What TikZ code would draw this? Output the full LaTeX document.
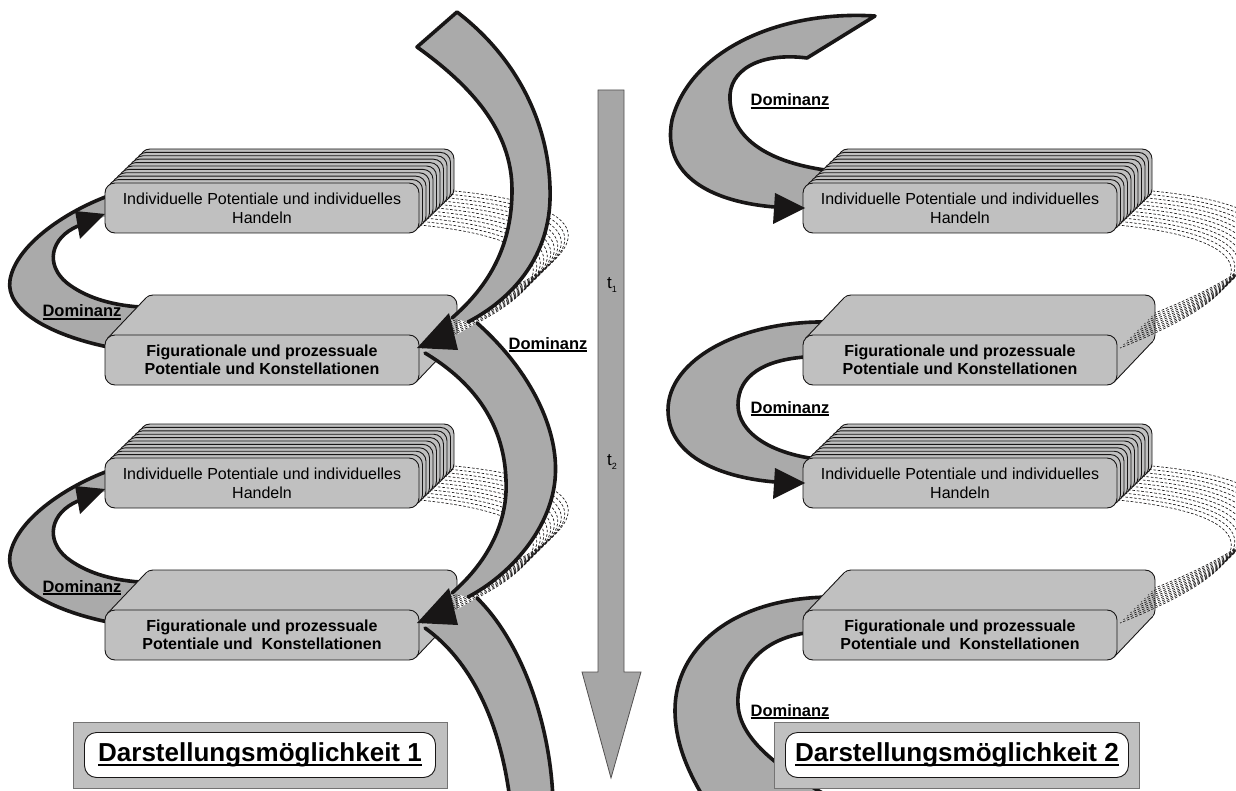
\documentclass[tikz,border=0pt]{standalone}
\usepackage{fontspec}
\setmainfont{Liberation Sans}
\definecolor{boxgray}{RGB}{192,192,192}
\definecolor{bandgray}{RGB}{170,170,170}
\definecolor{timegray}{RGB}{166,166,166}
\definecolor{ink}{RGB}{24,22,22}

% text with a rule underneath: thickness, drop, text
\newcommand\ulword[3]{\setbox0=\hbox{#3}\leavevmode\rlap{\raisebox{-#2}{\rule{\wd0}{#1}}}\box0}

\tikzset{
  faceline/.style={fill=boxgray, draw=ink, line width=0.9pt, rounded corners=10pt},
  bandedge/.style={draw=ink, line width=3.6pt, line cap=round, line join=round},
  ribbonline/.style={draw=ink, line width=0.65pt, dash pattern=on 2.6pt off 1.8pt},
  boxtext/.style={font=\fontsize{16}{19}\selectfont, align=center, inner sep=0pt},
  boldbox/.style={font=\fontsize{16}{18.5}\selectfont\bfseries, align=center, inner sep=0pt},
  domlabel/.style={font=\fontsize{16.5}{18}\selectfont\bfseries, inner sep=0pt, anchor=base},
  panel/.style={draw=ink!60, fill=boxgray, line width=0.8pt, inner sep=0pt},
  titlebox/.style={draw=ink, fill=white, line width=0.9pt, rounded corners=12pt,
    inner sep=0pt, font=\fontsize{26}{30}\selectfont\bfseries},
}

% stacked pile of faces; #2 = top-left corner of the front face
\newcommand\pile[3]{%
  \begin{scope}[shift={#2}]
    \foreach \k in {10,9,...,1}
      \draw[faceline] ({3.5*\k},{-3.4*\k}) rectangle ++(314,50);
    \draw[faceline] (0,0) rectangle (314,50);
    \node[boxtext] (#1) at (157,25) {#3};
  \end{scope}}

% extruded slab; #2 = top-left corner of the front face
\newcommand\slab[3]{%
  \begin{scope}[shift={#2}]
    \draw[faceline] (38,-40) rectangle ++(314,50);
    \foreach \s in {0.04,0.08,...,0.97}
      \fill[boxgray, rounded corners=10pt] ({38*\s},{-40*\s}) rectangle ++(314,50);
    \draw[ink, line width=0.9pt] (2.75,3.11) -- ++(38,-40);
    \draw[ink, line width=0.9pt] (311.25,46.89) -- ++(38,-40);
    \draw[faceline] (0,0) rectangle (314,50);
    \node[boldbox] (#1) at (157,25) {#3};
  \end{scope}}

% dashed threads from a pile (front at #1,#2) to the side of a slab (front at #3,#4)
\newcommand\threads[4]{%
  \foreach \k in {0,...,10} {
    \pgfmathsetmacro\thAx{#1+314.5+3.5*\k}
    \pgfmathsetmacro\thAy{#2+42-3.4*\k}
    \pgfmathsetmacro\thBx{#3+317+3.5*\k}
    \pgfmathsetmacro\thBy{#4+13-3.5*\k}
    \draw[ribbonline] (\thAx,\thAy) .. controls ({\thAx+150},{\thAy+15})
      and ({\thBx+150},{\thBy-60}) .. (\thBx,\thBy);
  }}

% left feedback loop from a slab back up to the pile above it
\newcommand\leftloop{%
  \fill[bandgray] (108,347) .. controls (50,335) and (5,310) .. (10,280)
    .. controls (16,245) and (65,212) .. (108,196) -- (112,214) -- (78,226)
    .. controls (50,238) and (45,265) .. (67,283)
    .. controls (85,297) and (110,305) .. (140,307) -- (160,330) -- cycle;
  \draw[bandedge] (108,347) .. controls (50,335) and (5,310) .. (10,280)
    .. controls (16,245) and (65,212) .. (108,196);
  \draw[bandedge] (78,226) .. controls (50,238) and (45,265) .. (67,283)
    .. controls (85,297) and (110,305) .. (140,307);}

\begin{document}
\begin{tikzpicture}[x=1pt, y=-1pt]
\path[use as bounding box] (0,0) rectangle (1236,791);
\clip (0,0) rectangle (1236,791);

% ---------- loops behind the boxes ----------
\leftloop
\begin{scope}[shift={(0,275)}]\leftloop\end{scope}

% right: entry band from above
\fill[bandgray] (807,58) -- (875,16) .. controls (780,10) and (690,50) .. (672,120)
  .. controls (660,180) and (720,208) .. (805,208) -- (825,170)
  .. controls (770,162) and (732,140) .. (730,100)
  .. controls (728,70) and (760,52) .. (807,58) -- cycle;
\draw[bandedge] (825,170) .. controls (770,162) and (732,140) .. (730,100)
  .. controls (728,70) and (760,52) .. (807,58) -- (875,16)
  .. controls (780,10) and (690,50) .. (672,120)
  .. controls (660,180) and (720,208) .. (800,208);

% right: middle loop
\fill[bandgray] (830,322) .. controls (740,320) and (668,360) .. (668,410)
  .. controls (668,460) and (730,483) .. (805,483) -- (825,460)
  .. controls (770,455) and (738,432) .. (738,405)
  .. controls (738,375) and (765,360) .. (805,357) -- (835,345) -- cycle;
\draw[bandedge] (830,322) .. controls (740,320) and (668,360) .. (668,410)
  .. controls (668,460) and (730,483) .. (800,483);
\draw[bandedge] (825,460) .. controls (770,455) and (738,432) .. (738,405)
  .. controls (738,375) and (765,360) .. (805,357);

% right: lower loop leaving the picture
\fill[bandgray] (830,597) .. controls (730,598) and (675,650) .. (675,710)
  .. controls (675,745) and (690,775) .. (705,800) -- (835,800)
  .. controls (780,770) and (740,740) .. (738,705)
  .. controls (736,670) and (760,640) .. (805,633) -- (835,620) -- cycle;
\draw[bandedge] (830,597) .. controls (730,598) and (675,650) .. (675,710)
  .. controls (675,745) and (690,775) .. (705,800);
\draw[bandedge] (835,800) .. controls (780,770) and (740,740) .. (738,705)
  .. controls (736,670) and (760,640) .. (805,633);

% ---------- piles and slabs ----------
\pile{indA}{(105,183)}{Individuelle Potentiale und individuelles\\Handeln}
\slab{figA}{(105,335)}{Figurationale und prozessuale\\Potentiale und Konstellationen}
\pile{indB}{(105,458)}{Individuelle Potentiale und individuelles\\Handeln}
\slab{figB}{(105,610)}{Figurationale und prozessuale\\Potentiale und\ \ Konstellationen}

\pile{indC}{(803,183)}{Individuelle Potentiale und individuelles\\Handeln}
\slab{figC}{(803,335)}{Figurationale und prozessuale\\Potentiale und Konstellationen}
\pile{indD}{(803,458)}{Individuelle Potentiale und individuelles\\Handeln}
\slab{figD}{(803,610)}{Figurationale und prozessuale\\Potentiale und\ \ Konstellationen}

% ---------- dashed threads ----------
\threads{105}{183}{105}{335}
\threads{105}{458}{105}{610}
\threads{803}{183}{803}{335}
\threads{803}{458}{803}{610}

% ---------- the long winding band on the left ----------
\fill[bandgray] (417,47) -- (457,12) .. controls (520,60) and (552,130) .. (550,200)
  .. controls (548,260) and (510,300) .. (468,322) -- (452,318)
  .. controls (490,285) and (512,245) .. (512,190)
  .. controls (512,130) and (470,85) .. (417,47) -- cycle;
\draw[bandedge] (452,318) .. controls (490,285) and (512,245) .. (512,190)
  .. controls (512,130) and (470,85) .. (417,47) -- (457,12)
  .. controls (520,60) and (552,130) .. (550,200)
  .. controls (548,260) and (510,300) .. (468,322);

\fill[bandgray] (425,353) -- (477,323) .. controls (530,370) and (560,430) .. (555,480)
  .. controls (550,530) and (510,575) .. (468,597) -- (452,593)
  .. controls (490,560) and (508,520) .. (506,480)
  .. controls (504,420) and (470,380) .. (425,353) -- cycle;
\draw[bandedge] (477,323) .. controls (530,370) and (560,430) .. (555,480)
  .. controls (550,530) and (510,575) .. (468,597);
\draw[bandedge] (452,593) .. controls (490,560) and (508,520) .. (506,480)
  .. controls (504,420) and (470,380) .. (425,353);

\fill[bandgray] (425,628) -- (477,598) .. controls (520,640) and (550,720) .. (553,800)
  -- (510,800) .. controls (500,720) and (470,660) .. (425,628) -- cycle;
\draw[bandedge] (477,598) .. controls (520,640) and (550,720) .. (553,800);
\draw[bandedge] (425,628) .. controls (470,660) and (500,720) .. (510,800);

% ---------- arrow heads ----------
\fill[ink] (105,214) -- (75,211) -- (80,239) -- cycle;
\fill[ink] (105,489) -- (75,486) -- (80,514) -- cycle;
\fill[ink] (805,208) -- (775,193) -- (773,224) -- cycle;
\fill[ink] (805,483) -- (775,468) -- (773,499) -- cycle;
\fill[ink] (417,348) -- (449,313) -- (458,350) -- cycle;
\fill[ink] (417,623) -- (449,588) -- (458,625) -- cycle;

% ---------- time axis ----------
\filldraw[fill=timegray, draw=ink!75, line width=0.8pt]
  (598,90) -- (624,90) -- (624,672) -- (641,672) -- (611,778) -- (582,672) -- (598,672) -- cycle;
\node[font=\fontsize{17}{18}\selectfont, inner sep=0pt] (tone) at (612,285)
  {t\raisebox{-3.5pt}{\fontsize{9}{9}\selectfont 1}};
\node[font=\fontsize{17}{18}\selectfont, inner sep=0pt] (ttwo) at (612,462)
  {t\raisebox{-3.5pt}{\fontsize{9}{9}\selectfont 2}};

% ---------- labels ----------
\node[domlabel] (domA) at (82,317) {\ulword{1.6pt}{3pt}{Dominanz}};
\node[domlabel] (domB) at (82,592) {\ulword{1.6pt}{3pt}{Dominanz}};
\node[domlabel] (domC) at (548,349) {\ulword{1.6pt}{3pt}{Dominanz}};
\node[domlabel] (domD) at (790,106) {\ulword{1.6pt}{3pt}{Dominanz}};
\node[domlabel] (domE) at (790,413) {\ulword{1.6pt}{3pt}{Dominanz}};
\node[domlabel] (domF) at (790,716) {\ulword{1.6pt}{3pt}{Dominanz}};

% ---------- captions ----------
\node[panel, minimum width=374pt, minimum height=66pt] (panA) at (260,755) {};
\node[titlebox, minimum width=351pt, minimum height=45pt] (capA) at (260,755)
  {\ulword{2.4pt}{4.5pt}{Darstellungsmöglichkeit 1}};
\node[panel, minimum width=365pt, minimum height=66pt] (panB) at (957,755) {};
\node[titlebox, minimum width=343pt, minimum height=45pt] (capB) at (957,755)
  {\ulword{2.4pt}{4.5pt}{Darstellungsmöglichkeit 2}};
\end{tikzpicture}
\end{document}
